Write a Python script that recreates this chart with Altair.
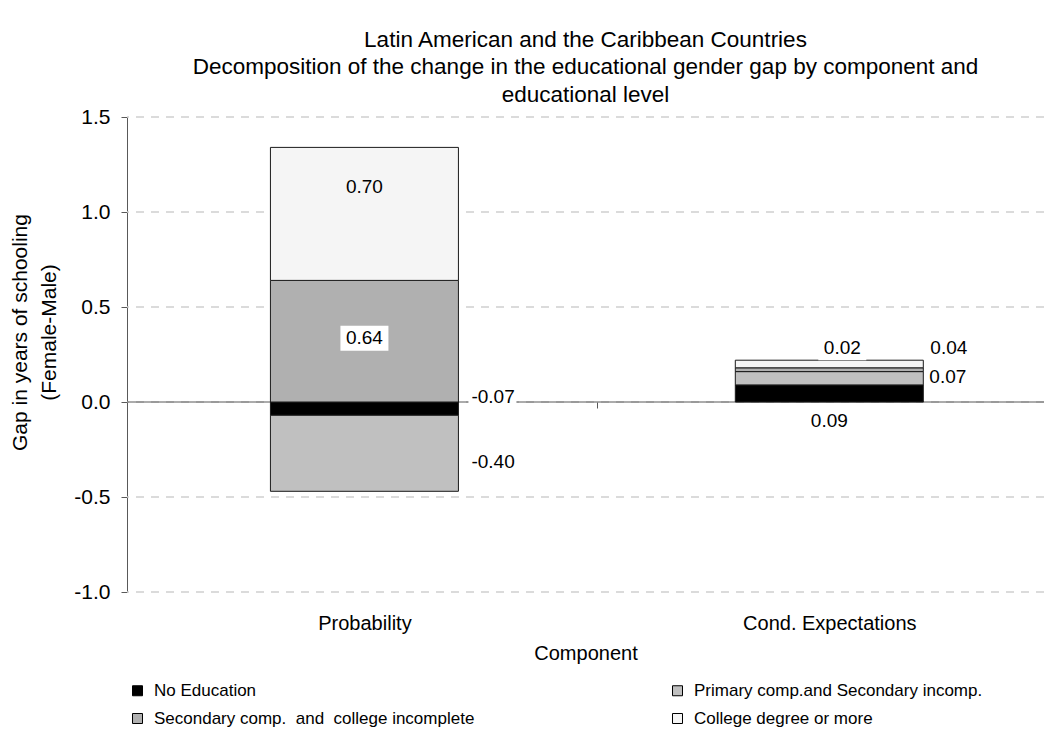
import json
import altair as alt
import pandas as pd

# ---------------- data ----------------
categories = ["Probability", "Cond. Expectations"]
levels = [
    "No Education",
    "Primary comp.and Secondary incomp.",
    "Secondary comp.  and  college incomplete",
    "College degree or more",
]
probability_values = [-0.07, -0.40, 0.64, 0.70]
cond_expectation_values = [0.09, 0.07, 0.02, 0.04]
y_ticks = [-1.0, -0.5, 0.0, 0.5, 1.0, 1.5]
title_lines = [
    "Latin American and the Caribbean Countries",
    "Decomposition of the change in the educational gender gap by component and",
    "educational level",
]
y_title_lines = ["Gap in years of schooling", "(Female-Male)"]
x_title = "Component"

rows = []
for cat, vals in zip(categories, [probability_values, cond_expectation_values]):
    for i, (lvl, v) in enumerate(zip(levels, vals)):
        rows.append({"component": cat, "level": lvl, "order": i, "value": v})
df = pd.DataFrame(rows)
grid_df = pd.DataFrame({"tick": y_ticks})

# ---------------- styles ----------------
FONT = "Liberation Sans"
AXIS_FS = 21
XLAB_FS = 20
LEG_FS = 17
DATA_FS = 19
TITLE_FS = 22.5
PLOT_W, PLOT_H = 917, 475
CAT_STEP = 470          # pixel width of one category slot
BAR_W = 188
Y_MIN, Y_MAX = -1.0, 1.5
ZERO_OFFSET = -PLOT_H * (0 - Y_MIN) / (Y_MAX - Y_MIN)
AXIS_GRAY = "#595959"
colors = ["#000000", "#c0c0c0", "#b0b0b0", "#f5f5f5"]
legend_order = [levels[0], levels[2], levels[1], levels[3]]  # column-major fill -> row-major look

n_cat = len(categories)
cat_centers = [i + 0.5 for i in range(n_cat)]
cat_bounds = [i for i in range(1, n_cat)]
cat_expr = json.dumps(categories)

# label placement (pixel offsets relative to segment middle)
label_style = {
    ("Probability", levels[3]): dict(dx=0, dy=-27, align="center", box=False),
    ("Probability", levels[2]): dict(dx=0, dy=-3, align="center", box=True),
    ("Probability", levels[0]): dict(dx=107, dy=-12, align="left", box=True),
    ("Probability", levels[1]): dict(dx=107, dy=9, align="left", box=False),
    ("Cond. Expectations", levels[0]): dict(dx=0, dy=28, align="center", box=False),
    ("Cond. Expectations", levels[1]): dict(dx=100, dy=-1, align="left", box=False),
    ("Cond. Expectations", levels[2]): dict(dx=13, dy=-22, align="center", box=True),
    ("Cond. Expectations", levels[3]): dict(dx=101, dy=-16, align="left", box=False),
}
BOX_W, BOX_H = 48, 25
box_path = "M-1,-{h}L1,-{h}L1,{h}L-1,{h}Z".format(h=round(BOX_H / BOX_W, 3))

x_scale = alt.Scale(domain=[0, PLOT_W / CAT_STEP], nice=False, zero=False)
y_scale = alt.Scale(domain=[Y_MIN, Y_MAX], nice=False, zero=False)

base = (
    alt.Chart(df)
    .transform_stack(
        stack="value",
        groupby=["component"],
        as_=["y0", "y1"],
        sort=[alt.SortField("order", order="ascending")],
    )
    .transform_calculate(
        mid="(datum.y0 + datum.y1) / 2",
        xpos="indexof(" + cat_expr + ", datum.component) + 0.5",
        lbl="replace(format(datum.value, '.2f'), '\u2212', '-')",
    )
)

grid = (
    alt.Chart(grid_df)
    .mark_rule(color="#cfcfcf", strokeWidth=1.5, strokeDash=[8, 7])
    .encode(y=alt.Y("tick:Q", scale=y_scale))
)

zero_rule = (
    alt.Chart(pd.DataFrame({"z": [0]}))
    .mark_rule(color=AXIS_GRAY, strokeWidth=1)
    .encode(y=alt.Y("z:Q", scale=y_scale))
)

bars = base.mark_bar(size=BAR_W, stroke="#1a1a1a", strokeWidth=1).encode(
    x=alt.X(
        "xpos:Q",
        scale=x_scale,
        axis=alt.Axis(
            orient="bottom",
            title=x_title,
            values=cat_centers,
            labelExpr=cat_expr + "[floor(datum.value)]",
            domain=False,
            ticks=False,
            grid=False,
            labelAngle=0,
            labelFontSize=XLAB_FS,
            titleFontSize=XLAB_FS,
            labelPadding=21,
            titlePadding=10,
        ),
    ),
    y=alt.Y(
        "y0:Q",
        scale=y_scale,
        axis=alt.Axis(
            values=y_ticks,
            labelExpr="replace(format(datum.value, '.1f'), '\u2212', '-')",
            title=y_title_lines,
            titleY=215,
            titleLineHeight=29,
            grid=False,
            domainColor=AXIS_GRAY,
            tickColor=AXIS_GRAY,
            tickSize=6,
            labelPadding=11,
            titlePadding=14,
        ),
    ),
    y2="y1:Q",
    color=alt.Color(
        "level:N",
        scale=alt.Scale(domain=levels, range=colors),
        legend=alt.Legend(
            title=None,
            values=legend_order,
            labelExpr="replace(replace(datum.label, '  ', ' \u00a0'), '  ', ' \u00a0')",
            orient="none",
            legendX=2,
            legendY=565,
            columns=2,
            columnPadding=194,
            rowPadding=10,
            symbolType="square",
            symbolSize=100,
            symbolStrokeColor="#000000",
            symbolStrokeWidth=1,
            labelFont=FONT,
            labelFontSize=LEG_FS,
            labelColor="#000000",
            labelOffset=8,
            labelLimit=600,
        ),
    ),
)

tick_axis = base.mark_point(opacity=0).encode(
    x=alt.X(
        "xpos:Q",
        scale=x_scale,
        axis=alt.Axis(
            orient="bottom",
            offset=ZERO_OFFSET,
            values=cat_bounds,
            labels=False,
            title="",
            domain=False,
            grid=False,
            ticks=True,
            tickSize=6,
            tickColor=AXIS_GRAY,
        ),
    ),
    y=alt.Y("mid:Q", scale=y_scale),
)

boxes = []
labels = []
for (cat, lvl), st in label_style.items():
    filt = (alt.datum.component == cat) & (alt.datum.level == lvl)
    if st["box"]:
        bdx = st["dx"] + (BOX_W / 2 - 3 if st["align"] == "left" else 0)
        boxes.append(
            base.transform_filter(filt)
            .mark_point(
                shape=box_path,
                size=BOX_W * BOX_W,
                filled=True,
                color="white",
                opacity=1,
                strokeWidth=0,
                xOffset=bdx,
                yOffset=st["dy"],
            )
            .encode(
                x=alt.X("xpos:Q", scale=x_scale, axis=None),
                y=alt.Y("mid:Q", scale=y_scale),
            )
        )
    labels.append(
        base.transform_filter(filt)
        .mark_text(
            font=FONT,
            fontSize=DATA_FS,
            color="#000000",
            align=st["align"],
            baseline="middle",
            dx=st["dx"],
            dy=st["dy"],
        )
        .encode(
            x=alt.X("xpos:Q", scale=x_scale, axis=None),
            y=alt.Y("mid:Q", scale=y_scale),
            text=alt.Text("lbl:N"),
        )
    )

chart = (
    alt.layer(grid, zero_rule, bars, tick_axis, *boxes, *labels)
    .resolve_axis(x="independent")
    .properties(
        width=PLOT_W,
        height=PLOT_H,
        padding={"left": 1, "top": 20, "right": 0, "bottom": 0},
        title=alt.TitleParams(
            text=title_lines,
            font=FONT,
            fontSize=TITLE_FS,
            fontWeight="normal",
            color="#000000",
            lineHeight=27.5,
            anchor="middle",
            offset=0,
        ),
    )
    .configure_view(strokeWidth=0)
    .configure_axis(
        labelFont=FONT,
        titleFont=FONT,
        labelFontSize=AXIS_FS,
        titleFontSize=AXIS_FS,
        labelColor="#000000",
        titleColor="#000000",
        titleFontWeight="normal",
    )
)

chart.save("out.html", embed_options={"renderer": "svg", "actions": False})
